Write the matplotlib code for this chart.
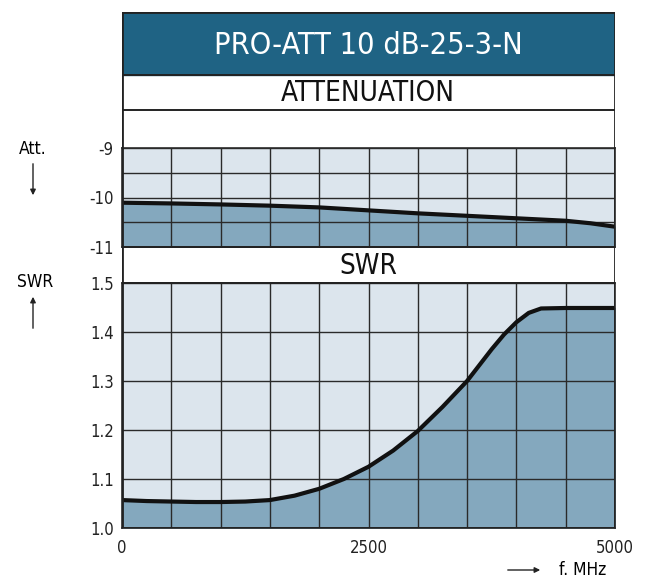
import numpy as np
import matplotlib.pyplot as plt
from matplotlib.patches import Rectangle

# data
freq_att = [0, 500, 1000, 1500, 2000, 2500, 3000, 3500, 4000, 4500, 4750, 5000]
att = [-10.105, -10.12, -10.14, -10.165, -10.20, -10.26, -10.32, -10.37, -10.42, -10.47, -10.52, -10.59]

freq_swr = [0, 250, 500, 750, 1000, 1250, 1500, 1750, 2000, 2250, 2500, 2750,
            3000, 3250, 3500, 3750, 3875, 4000, 4125, 4250, 4500, 4750, 5000]
swr = [1.057, 1.055, 1.054, 1.053, 1.053, 1.054, 1.057, 1.066, 1.080, 1.100, 1.125, 1.158,
       1.198, 1.247, 1.300, 1.365, 1.395, 1.420, 1.439, 1.448, 1.449, 1.449, 1.449]

title = 'PRO-ATT 10 dB-25-3-N'

light = '#dce5ed'
dark = '#84a8be'
band = '#1f6384'
gridc = '#2a2a2a'

W, H = 651, 587
fig = plt.figure(figsize=(W / 100, H / 100), dpi=100)

def box(x0, y0, x1, y1):
    return [x0 / W, 1 - y1 / H, (x1 - x0) / W, (y1 - y0) / H]

def fp(x, y):
    return (x / W, 1 - y / H)

font = dict(family='DejaVu Sans', stretch='condensed')

def setup(ax, ylim, major, minor, labels):
    ax.set_xlim(0, 5000)
    ax.set_ylim(*ylim)
    ax.set_facecolor(light)
    ax.set_xticks([0, 2500, 5000])
    ax.set_xticks(np.arange(500, 5000, 500), minor=True)
    ax.set_yticks(major)
    ax.set_yticklabels(labels, fontsize=12, color='#222222', **font)
    ax.set_yticks(minor, minor=True)
    ax.grid(True, which='both', color=gridc, lw=1)
    ax.tick_params(which='both', length=0, pad=6)
    ax.set_axisbelow(False)
    for s in ax.spines.values():
        s.set_color(gridc)
        s.set_linewidth(1.2)

# attenuation
ax1 = fig.add_axes(box(122, 148, 615, 247))
setup(ax1, (-11, -9), [-11, -10, -9], [-10.5, -9.5], ['-11', '-10', '-9'])
ax1.fill_between(freq_att, att, -11, color=dark, zorder=0.5)
ax1.plot(freq_att, att, color='#111111', lw=3, zorder=3, solid_capstyle='butt')
ax1.set_xticklabels([])

# SWR
ax2 = fig.add_axes(box(122, 283, 615, 528))
setup(ax2, (1.0, 1.5), [1.0, 1.1, 1.2, 1.3, 1.4, 1.5], [],
      ['1.0', '1.1', '1.2', '1.3', '1.4', '1.5'])
ax2.fill_between(freq_swr, swr, 1.0, color=dark, zorder=0.5)
ax2.plot(freq_swr, swr, color='#111111', lw=3, zorder=3, solid_capstyle='butt',
         solid_joinstyle='round')
ax2.set_xticklabels(['0', '2500', '5000'], fontsize=12, color='#222222', **font)
ax2.tick_params(axis='x', pad=8)

# frame with title bands
ax0 = fig.add_axes(box(122, 12, 615, 528), zorder=5)
ax0.set_xlim(122, 615)
ax0.set_ylim(528, 12)
ax0.axis('off')
ax0.add_patch(Rectangle((122, 12), 493, 63, color=band, zorder=1))
ax0.text(368, 45, title, color='white', fontsize=22, ha='center', va='center', **font)
ax0.text(368, 93, 'ATTENUATION', color='#111111', fontsize=20, ha='center', va='center', **font)
ax0.text(368, 266, 'SWR', color='#111111', fontsize=20, ha='center', va='center', **font)
for y in [75, 110, 247, 283]:
    ax0.plot([122, 615], [y, y], color='#222222', lw=1.4)
ax0.add_patch(Rectangle((122, 12), 493, 516, fill=False, ec='#222222', lw=2, zorder=4))

# side labels
arrow = dict(arrowstyle='-|>', color='#222222', lw=1, mutation_scale=8)
fig.text(*fp(33, 149), 'Att.', fontsize=12.5, ha='center', va='center', **font)
ax0.annotate('', xy=fp(33, 198), xytext=fp(33, 161), xycoords='figure fraction',
             arrowprops=arrow, annotation_clip=False)
fig.text(*fp(35, 282), 'SWR', fontsize=12.5, ha='center', va='center', **font)
ax0.annotate('', xy=fp(33, 294), xytext=fp(33, 331), xycoords='figure fraction',
             arrowprops=arrow, annotation_clip=False)
ax0.annotate('', xy=fp(543, 570), xytext=fp(505, 570), xycoords='figure fraction',
             arrowprops=arrow, annotation_clip=False)
fig.text(*fp(559, 570), 'f. MHz', fontsize=12.5, ha='left', va='center', **font)

fig.savefig('out.png', dpi=100, facecolor='white')
